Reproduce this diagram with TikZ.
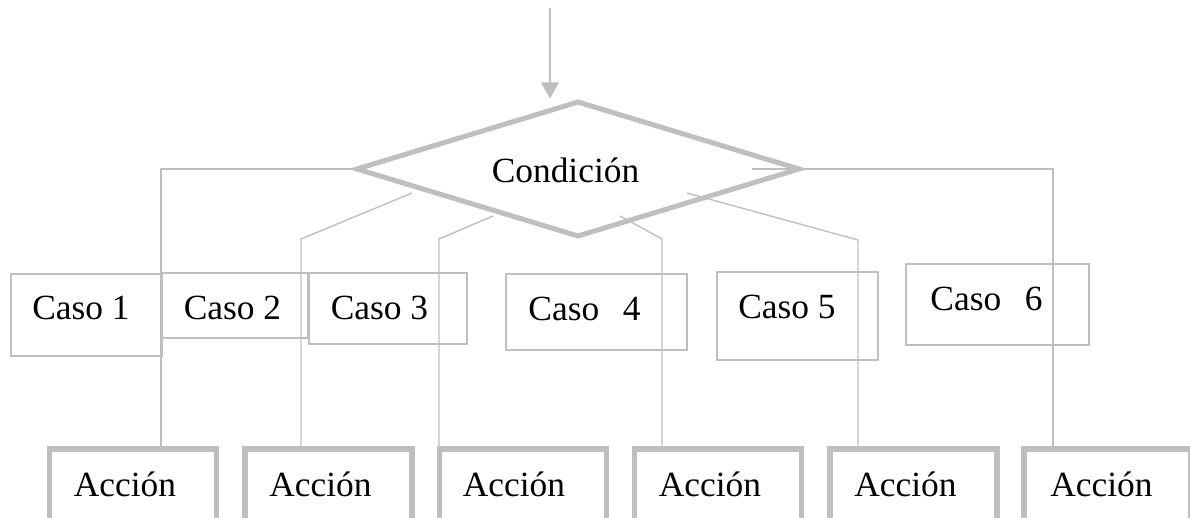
\documentclass[tikz,border=0pt]{standalone}
\usepackage{fontspec}
\setmainfont{Liberation Serif}
\usetikzlibrary{arrows.meta,shapes.geometric}
\definecolor{lg}{HTML}{BFBFBF}
\newcommand{\lblfont}{\fontsize{17.7pt}{20pt}\selectfont}
\begin{document}
\begin{tikzpicture}[x=0.5pt,y=-0.5pt,
  link/.style={draw=lg,line width=0.7pt},
  casebox/.style 2 args={draw=lg,line width=0.7pt,rectangle,inner sep=0pt,minimum width=#1,minimum height=#2},
  actbox/.style={draw=lg,line width=2.75pt,rectangle,minimum width=83.5pt,minimum height=39pt,inner sep=0pt,text height=12pt,text depth=4pt,font=\lblfont},
  lbl/.style={font=\lblfont,inner sep=0pt,anchor=base},
  decision/.style={diamond,draw=lg,line width=2.5pt,inner sep=0pt,shape aspect=3.2,minimum width=222pt,minimum height=68pt}]
\useasboundingbox (0,0) rectangle (1190,518);
\clip (0,0) rectangle (1190,518);
% decision
\node[decision] (dia) at (578,169) {};
\node[lbl] (tc) at (565.5,183) {Condición};
% action boxes
\node[actbox] (a1) at (133,488) {Acción\kern8pt};
\node[actbox] (a2) at (328.5,488) {Acción\kern8pt};
\node[actbox] (a3) at (523,488) {Acción\kern9pt};
\node[actbox] (a4) at (718,488) {Acción\kern8pt};
\node[actbox] (a5) at (913.5,488) {Acción\kern8pt};
\node[actbox] (a6) at (1107.5,488) {Acción\kern6pt};
% case boxes
\node[casebox={75.5pt}{41pt}] (c1) at (86.5,315) {};
\node[casebox={73.5pt}{32.5pt}] (c2) at (234.5,305.5) {};
\node[casebox={79pt}{35.5pt}] (c3) at (388,308.5) {};
\node[casebox={90.5pt}{38pt}] (c4) at (596.5,312) {};
\node[casebox={80.5pt}{44pt}] (c5) at (797.5,316) {};
\node[casebox={91.5pt}{40.5pt}] (c6) at (997.5,304.5) {};
\node[lbl] (t1) at (81,320) {Caso 1};
\node[lbl] (t2) at (232.5,320) {Caso 2};
\node[lbl] (t3) at (379.5,320) {Caso 3};
\node[lbl] (t4) at (584.5,321) {Caso\ \ \,4};
\node[lbl] (t5) at (787,319) {Caso 5};
\node[lbl] (t6) at (986.5,311) {Caso\ \ \,6};
% connectors
\coordinate (in) at (550,8);
\draw[link,-{Triangle[width=9pt,length=8pt]}] (in) -- (in |- dia.north);
\coordinate (b1) at (161,0);
\draw[link] (dia.west) -| (b1 |- a1.north);
\coordinate (s2) at (412,193);
\coordinate (b2) at (301,239);
\draw[link] (s2) -- (b2) -- (b2 |- a2.north);
\coordinate (s3) at (493,216);
\coordinate (b3) at (439,239);
\draw[link] (s3) -- (b3) -- (b3 |- a3.north);
\coordinate (s4) at (620,216);
\coordinate (b4) at (662,239);
\draw[link] (s4) -- (b4) -- (b4 |- a4.north);
\coordinate (s5) at (687,193);
\coordinate (b5) at (858,240);
\draw[link] (s5) -- (b5) -- (b5 |- a5.north);
\coordinate (s6) at (752,169);
\coordinate (b6) at (1053,0);
\draw[link] (s6) -| (b6 |- a6.north);
\end{tikzpicture}
\end{document}
